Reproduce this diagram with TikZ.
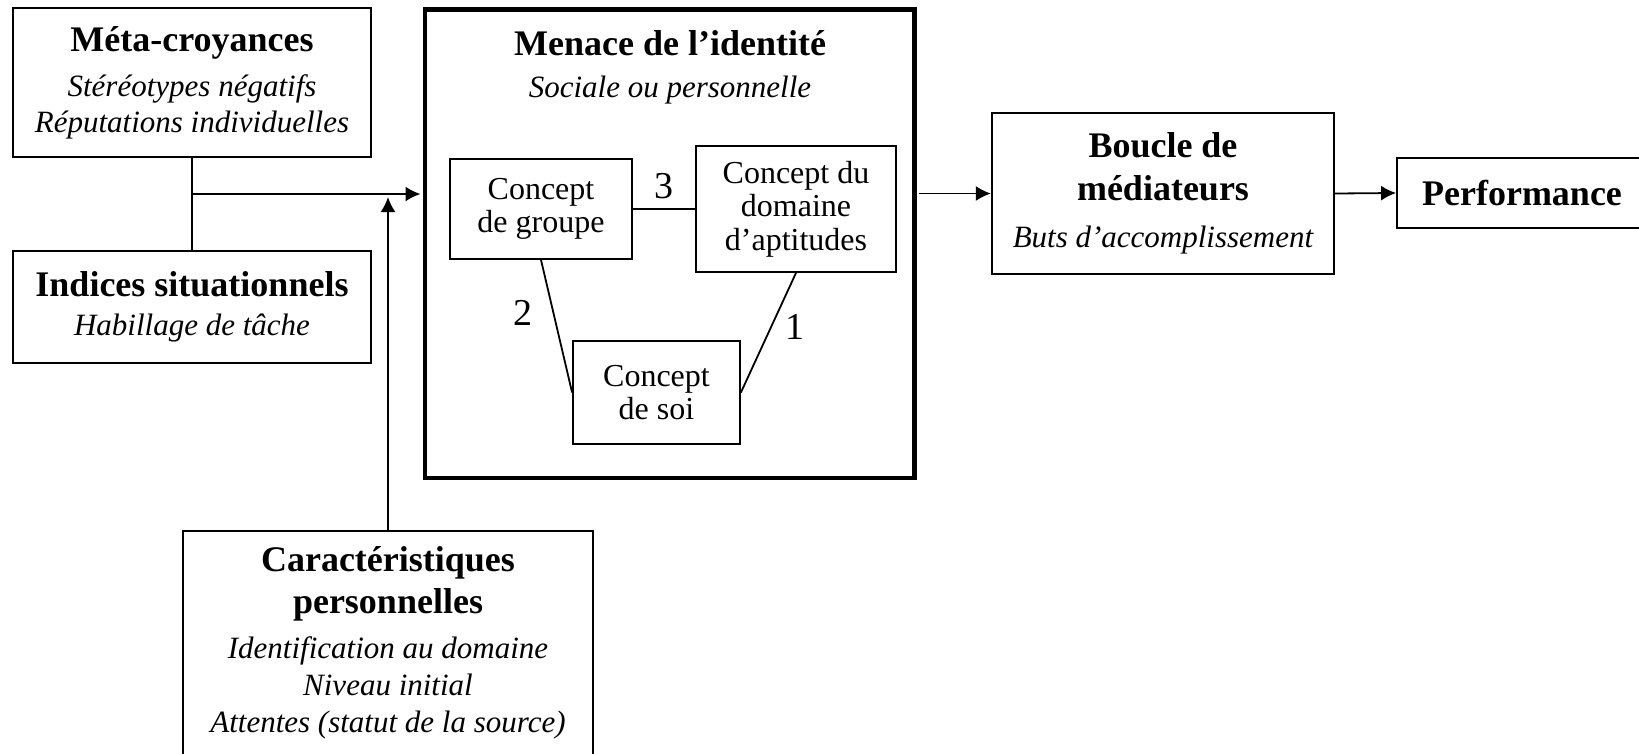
\documentclass[tikz,border=0pt]{standalone}
\usepackage{fontspec}
\setmainfont{Liberation Serif}
\usetikzlibrary{arrows.meta}

\tikzset{
  box/.style={draw, line width=1.8pt, inner sep=0pt, align=center, font=\fontsize{31}{36}\selectfont\itshape},
  inbox/.style={draw, line width=1.8pt, inner sep=0pt, align=center, font=\fontsize{32}{33.5}\selectfont},
  link/.style={line width=1.8pt},
  arr/.style={line width=1.8pt, -{Latex[length=15pt,width=15pt]}},
  num/.style={font=\fontsize{38}{38}\selectfont, inner sep=0pt},
}
\newcommand{\boxtitle}[1]{{\fontsize{36}{36}\selectfont\bfseries\upshape #1}}

\begin{document}
\begin{tikzpicture}[x=1pt,y=1pt,yscale=-1]
    \useasboundingbox (0,0) rectangle (1639,753);
    \clip (0,0) rectangle (1639,753);

    %Shape: Rectangle [meta]
    \node[box, minimum width=358pt, minimum height=149pt] (meta) at (192,82.5)
      {\boxtitle{Méta-croyances}\\[9pt] Stéréotypes négatifs\\ Réputations individuelles};
    %Shape: Rectangle [indices]
    \node[box, minimum width=358pt, minimum height=112pt] (indices) at (192,307)
      {\boxtitle{Indices situationnels}\\[3pt] Habillage de tâche};
    %Shape: Rectangle [carac]
    \node[box, minimum width=410pt, minimum height=224pt] (carac) at (388,643)
      {\boxtitle{Caractéristiques}\\[6pt] \boxtitle{personnelles}\\[9pt] Identification au domaine\\[1pt] Niveau initial\\[1pt] Attentes (statut de la source)};

    %Shape: Rectangle [menace]
    \node[draw, line width=4.5pt, minimum width=489.5pt, minimum height=468.5pt, inner sep=0pt] (menace) at (669.75,243.75) {};
    % Text Node
    \node[inner sep=0pt] (menacettl) at (670,43) {\boxtitle{Menace de l’identité}};
    % Text Node
    \node[inner sep=0pt, font=\fontsize{31}{36}\selectfont\itshape] (menacesub) at (670,90) {Sociale ou personnelle};

    %Shape: Rectangle [groupe]
    \node[inbox, minimum width=182pt, minimum height=100pt] (groupe) at (541,209) {Concept\\ de groupe};
    %Shape: Rectangle [domaine]
    \node[inbox, minimum width=200pt, minimum height=126pt] (domaine) at (796,209) {Concept du\\ domaine\\ d’aptitudes};
    %Shape: Rectangle [soi]
    \node[inbox, minimum width=167pt, minimum height=103pt] (soi) at (656.5,392.5) {Concept\\ de soi};

    %Shape: Rectangle [boucle]
    \node[box, minimum width=342.5pt, minimum height=161pt] (boucle) at (1163,193.5)
      {\boxtitle{Boucle de}\\[7pt] \boxtitle{médiateurs}\\[11pt] Buts d’accomplissement};
    %Shape: Rectangle [perf]
    \node[box, minimum width=250pt, minimum height=70pt] (perf) at (1522,193) {\boxtitle{Performance}};

    % Connectors
    \coordinate (join) at (192,194);
    \draw[link] (meta.south) -- (indices.north);
    \draw[arr, shorten >=2.25pt] (join) -- (join -| menace.west);
    \draw[arr, shorten >=3pt] (carac.north) -- (carac.north |- join);
    \draw[arr, shorten <=2.25pt] (menace.east |- boucle.west) -- (boucle.west);
    \draw[arr] (boucle.east) -- (perf.west);

    % Links inside
    \draw[link] (groupe.east) -- node[num, above=9pt] (n3) {3} (domaine.west);
    \draw[link] (groupe.south) -- node[num, pos=0.4, left=20pt] (n2) {2} (soi.west);
    \draw[link] (domaine.south) -- node[num, pos=0.456, right=14pt] (n1) {1} (soi.east);

\end{tikzpicture}
\end{document}
